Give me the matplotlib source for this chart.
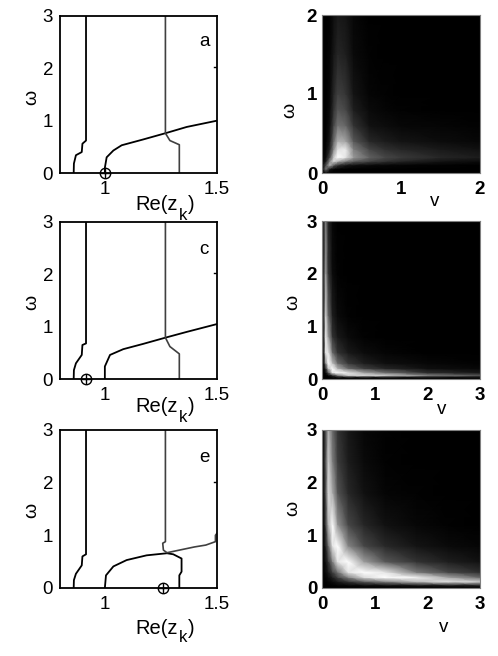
import numpy as np
import matplotlib
matplotlib.use("Agg")
import matplotlib.pyplot as plt

plt.rcParams['font.family'] = ['Liberation Sans', 'DejaVu Sans']

W = 498
H = 656

# left column: traced curves, (Re z, omega)
left_x = [0.861, 0.862, 0.871, 0.897, 0.900, 0.916, 0.916]
a_left_w = [0, 0.18, 0.34, 0.40, 0.56, 0.62, 3]
c_left_w = [0, 0.17, 0.30, 0.46, 0.65, 0.68, 3]
e_left_w = [0, 0.15, 0.27, 0.43, 0.60, 0.64, 3]

a_rise_x = [1.0, 1.0, 1.008, 1.038, 1.075, 1.17, 1.27, 1.365, 1.5]
a_rise_w = [0, 0.10, 0.30, 0.43, 0.53, 0.64, 0.76, 0.88, 1.0]
a_mid_x = [1.27, 1.27, 1.29, 1.332, 1.332]
a_mid_w = [3, 0.76, 0.62, 0.54, 0]

c_rise_x = [1.0, 1.0, 1.023, 1.082, 1.17, 1.27, 1.365, 1.5]
c_rise_w = [0, 0.24, 0.46, 0.57, 0.67, 0.79, 0.90, 1.05]
c_mid_x = [1.27, 1.27, 1.29, 1.332, 1.332]
c_mid_w = [3, 0.79, 0.62, 0.48, 0]

e_rise_x = [1.0, 1.005, 1.038, 1.097, 1.186, 1.277, 1.305, 1.342, 1.342, 1.332, 1.332]
e_rise_w = [0, 0.24, 0.41, 0.53, 0.62, 0.66, 0.64, 0.56, 0.31, 0.24, 0]
e_mid_x = [1.27, 1.27, 1.258, 1.261, 1.277, 1.40, 1.45, 1.493, 1.493, 1.5]
e_mid_w = [3, 0.88, 0.85, 0.72, 0.67, 0.78, 0.815, 0.88, 1.0, 1.04]

stub_x = [1.487, 1.5]
stub_w = [2.02, 2.02]

a_zero = 1.0
c_zero = 0.914
e_zero = 1.258

# right column: brightness read at grid nodes
b_v = [0, .05, .1, .15, .2, .3, .4, .6, .8, 1, 1.5, 2]
b_w = [0, .05, .1, .15, .2, .3, .4, .6, .8, 1, 1.5, 2]
b_z = [
    [0, 0, 0, 0, 0, 0, 0, 0, 0, 0, 0, 0],
    [0, .45, .08, .02, .01, 0, 0, 0, 0, 0, 0, 0],
    [0, .3, .7, .35, .2, .1, .07, .04, .03, .02, .01, 0],
    [0, .1, .55, .85, .7, .5, .38, .27, .2, .15, .08, .05],
    [0, .05, .3, .8, 1, .9, .6, .38, .28, .23, .15, .11],
    [0, .02, .15, .55, .88, .92, .5, .27, .19, .15, .1, .07],
    [0, .01, .1, .42, .7, .65, .35, .16, .11, .08, .05, .03],
    [0, 0, .06, .28, .45, .4, .2, .07, .05, .03, .02, .01],
    [0, 0, .04, .2, .33, .28, .12, .04, .02, .01, 0, 0],
    [0, 0, .03, .16, .25, .21, .08, .02, .01, 0, 0, 0],
    [0, 0, .02, .09, .15, .12, .04, .01, 0, 0, 0, 0],
    [0, 0, .01, .06, .1, .08, .03, 0, 0, 0, 0, 0],
]

d_v = [0, .03, .07, .12, .2, .3, .5, .8, 1.2, 2, 3]
d_w = [0, .03, .07, .12, .2, .3, .5, .8, 1.2, 2, 3]
d_z = [
    [0, 0, 0, 0, 0, 0, 0, 0, 0, 0, 0],
    [0, 0, 0, 0, .01, .02, .03, .03, .03, .03, .03],
    [0, 0, 0, .03, .15, .45, .8, .85, .8, .5, .32],
    [0, 0, .03, .3, .9, 1, .9, .65, .45, .18, .1],
    [0, .01, .15, .75, 1, .7, .42, .25, .15, .06, .03],
    [0, .03, .5, 1, .75, .42, .22, .12, .06, .03, .01],
    [0, .06, .9, .9, .42, .2, .1, .05, .02, 0, 0],
    [0, .1, .92, .62, .2, .1, .04, .01, 0, 0, 0],
    [0, .15, .82, .42, .12, .04, .01, 0, 0, 0, 0],
    [0, .15, .62, .22, .05, .01, 0, 0, 0, 0, 0],
    [0, .12, .48, .15, .03, 0, 0, 0, 0, 0, 0],
]

f_v = [0, .05, .12, .2, .3, .5, .8, 1.2, 1.8, 2.4, 3]
f_w = [0, .05, .12, .2, .3, .5, .8, 1.2, 1.8, 2.4, 3]
f_z = [
    [0, 0, 0, 0, 0, 0, 0, 0, 0, 0, 0],
    [0, 0, 0, .01, .02, .03, .05, .06, .08, .1, .12],
    [0, 0, .02, .05, .1, .2, .35, .5, .72, .88, .8],
    [0, .01, .05, .12, .25, .5, .85, 1, .95, .65, .42],
    [0, .02, .1, .25, .45, .9, 1, .9, .48, .28, .18],
    [0, .03, .2, .5, .9, 1, .62, .35, .2, .12, .07],
    [0, .05, .4, .9, 1, .52, .28, .16, .08, .04, .02],
    [0, .08, .7, 1, .58, .28, .15, .07, .03, .01, 0],
    [0, .12, .85, .68, .33, .16, .07, .02, .01, 0, 0],
    [0, .15, .8, .5, .24, .11, .04, .01, 0, 0, 0],
    [0, .15, .7, .42, .2, .09, .03, .01, 0, 0, 0],
]


# axes from a pixel box, y counted from the top
def px_axes(fig, x0, y0, x1, y1):
    return fig.add_axes([x0 / W, 1 - y1 / H, (x1 - x0) / W, (y1 - y0) / H])


def px_text(fig, x, y, s, ha='center', **kw):
    fig.text(x / W, 1 - y / H, s, ha=ha, va='center', **kw)


def left_panel(fig, box, left_w, curves, zero, letter, label_y, omega_y, letter_y):
    ax = px_axes(fig, *box)
    ax.plot(left_x, left_w, color='black', lw=1.3)
    for cx, cw, col, lw in curves:
        ax.plot(cx, cw, color=col, lw=lw)
    ax.plot(stub_x, stub_w, color='black', lw=1.0)
    ax.plot([zero], [0], 'o', mfc='none', mec='black', ms=7.5, mew=1.0, clip_on=False, zorder=5)
    ax.plot([zero], [0], '+', color='black', ms=7.5, mew=1.0, clip_on=False, zorder=5)
    ax.set_xlim(0.8, 1.5)
    ax.set_ylim(0, 3)
    ax.set_xticks([1, 1.5])
    ax.set_xticklabels(['1', '1.5'])
    ax.set_yticks([0, 1, 2, 3])
    ax.tick_params(axis='both', length=0, labelsize=13.5)
    ax.tick_params(axis='x', pad=6)
    ax.tick_params(axis='y', pad=5)
    for s in ax.spines.values():
        s.set_linewidth(1.3)
    # k is set apart by hand, it hangs lower than a normal subscript
    px_text(fig, 178, label_y, 'Re(z', ha='right', fontsize=14.5)
    px_text(fig, 179, label_y + 10, 'k', ha='left', fontsize=12)
    px_text(fig, 188, label_y, ')', ha='left', fontsize=14.5)
    px_text(fig, 32, omega_y, '\u03c9', fontsize=14, rotation=90)
    px_text(fig, 204, letter_y, letter, fontsize=13.5)


def right_panel(fig, box, v, w, z, top, xpos, ypos, omega_x, omega_y):
    ax = px_axes(fig, *box)
    ax.pcolormesh(v, w, np.array(z), cmap='gray', vmin=0, vmax=1, shading='gouraud')
    ax.set_xlim(0, top)
    ax.set_ylim(0, top)
    ax.set_xticks(range(top + 1))
    ax.set_yticks(range(top + 1))
    ax.tick_params(axis='both', length=0, labelsize=13.5)
    ax.tick_params(axis='x', pad=6)
    ax.tick_params(axis='y', pad=3.5)
    for lab in ax.get_xticklabels() + ax.get_yticklabels():
        lab.set_fontweight('bold')
    for s in ax.spines.values():
        s.set_linewidth(0.8)
        s.set_color('#808080')
    px_text(fig, xpos, ypos, 'v', fontsize=13.5)
    px_text(fig, omega_x, omega_y, '\u03c9', fontsize=14, rotation=90)


fig = plt.figure(figsize=(W / 100, H / 100), dpi=100)

left_panel(fig, (60, 16, 217, 173), a_left_w,
           [(a_rise_x, a_rise_w, 'black', 1.3), (a_mid_x, a_mid_w, '#404040', 1.2)],
           a_zero, 'a', 205, 97, 42)
left_panel(fig, (60, 222, 217, 379), c_left_w,
           [(c_rise_x, c_rise_w, 'black', 1.3), (c_mid_x, c_mid_w, '#404040', 1.2)],
           c_zero, 'c', 407, 302, 250)
left_panel(fig, (60, 430, 217, 588), e_left_w,
           [(e_rise_x, e_rise_w, 'black', 1.3), (e_mid_x, e_mid_w, '#404040', 1.2)],
           e_zero, 'e', 628, 510, 458)

right_panel(fig, (322, 15, 480, 173), b_v, b_w, b_z, 2, 435, 202, 290, 110)
right_panel(fig, (322, 221, 480, 379), d_v, d_w, d_z, 3, 442, 409, 293, 302)
right_panel(fig, (322, 430, 480, 588), f_v, f_w, f_z, 3, 444, 627, 293, 508)

fig.savefig('out.png', dpi=100)
